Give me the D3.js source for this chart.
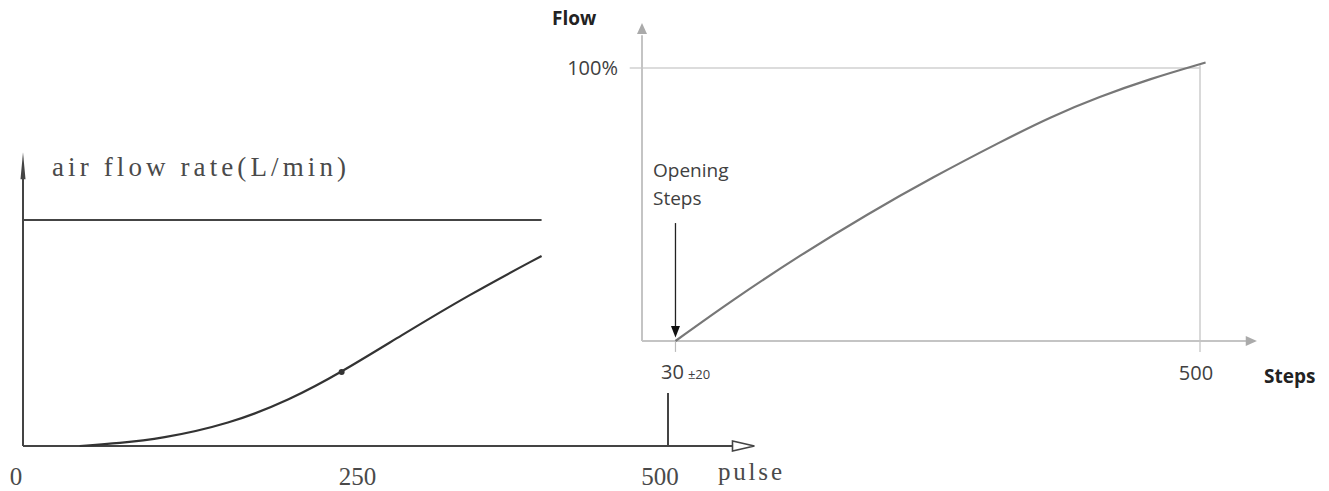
<!DOCTYPE html>
<html>
<head>
<meta charset="utf-8">
<script src="https://cdn.jsdelivr.net/npm/d3@7"></script>
<style>
  body { margin: 0; background: #fff; }
  .serif { font-family: "Liberation Serif", "DejaVu Serif", serif; fill: #4a4a4a; }
  .sans { font-family: "Open Sans", "Lato", sans-serif; fill: #404040; }
</style>
</head>
<body>
<svg id="chart" width="1329" height="491"></svg>
<script>
// left chart: air flow vs pulse
let pulse = [44, 75, 106, 160, 207, 247, 292, 346, 402]
let airFlow = [0, 1.3, 3.1, 9.7, 20.4, 32.7, 48.5, 67, 84.1]
let pulseTicks = [0, 250, 500]
let markPulse = 247

// right chart: flow % vs steps
let steps = [30, 81, 142, 202, 261, 321, 366, 410, 455, 505]
let flowPct = [0, 15.0, 31.5, 46.5, 60.1, 72.9, 82.1, 89.5, 96, 102]
let openingStep = 30
let fullStep = 500

let svg = d3.select("#chart")

// ---------- left chart ----------
let xL = d3.scaleLinear().domain([0, 500]).range([23, 668])
let yL = d3.scaleLinear().domain([0, 100]).range([446, 220])
let dark = "#444"

let gL = svg.append("g")

// y axis with thin arrow
gL.append("line")
  .attr("x1", xL(0)).attr("x2", xL(0))
  .attr("y1", yL(0)).attr("y2", yL(124))
  .attr("stroke", dark).attr("stroke-width", 2)
gL.append("path")
  .attr("d", `M${xL(0)},${yL(130)} L${xL(0) - 2.5},${yL(118)} L${xL(0) + 2.5},${yL(118)} Z`)
  .attr("fill", dark)

// x axis with open arrow
gL.append("line")
  .attr("x1", xL(0)).attr("x2", xL(560))
  .attr("y1", yL(0)).attr("y2", yL(0))
  .attr("stroke", dark).attr("stroke-width", 2)
gL.append("path")
  .attr("d", `M${xL(567)},${yL(0)} L${xL(550)},${yL(0) - 5} L${xL(550)},${yL(0) + 5} Z`)
  .attr("fill", "#fff").attr("stroke", dark).attr("stroke-width", 1.6)

// max flow line
gL.append("line")
  .attr("x1", xL(0)).attr("x2", xL(402))
  .attr("y1", yL(100)).attr("y2", yL(100))
  .attr("stroke", dark).attr("stroke-width", 2)

// 500 pulse marker
gL.append("line")
  .attr("x1", xL(500)).attr("x2", xL(500))
  .attr("y1", yL(0)).attr("y2", yL(23.5))
  .attr("stroke", dark).attr("stroke-width", 2)

// curve
let lineL = d3.line()
  .x((d, i) => xL(pulse[i]))
  .y(d => yL(d))
  .curve(d3.curveBasis)

gL.append("path")
  .datum(airFlow)
  .attr("d", lineL)
  .attr("fill", "none")
  .attr("stroke", "#333")
  .attr("stroke-width", 2.2)

gL.append("circle")
  .attr("cx", xL(markPulse))
  .attr("cy", yL(32.7))
  .attr("r", 3)
  .attr("fill", "#333")

gL.append("text")
  .attr("class", "serif")
  .attr("x", 52).attr("y", 176)
  .attr("textLength", 294).attr("lengthAdjust", "spacing")
  .style("font-size", "27px")
  .text("air flow rate(L/min)")

gL.selectAll(".tickL")
  .data(pulseTicks)
  .join("text")
  .attr("class", "serif tickL")
  .attr("x", d => xL(d) + (d == 0 ? -7 : d == 250 ? 12 : -8))
  .attr("y", 485)
  .attr("text-anchor", "middle")
  .style("font-size", "25px")
  .text(d => d)

gL.append("text")
  .attr("class", "serif")
  .attr("x", 718).attr("y", 480)
  .attr("textLength", 64).attr("lengthAdjust", "spacing")
  .style("font-size", "25px")
  .text("pulse")

// ---------- right chart ----------
let xR = d3.scaleLinear().domain([0, 500]).range([642, 1200])
let yR = d3.scaleLinear().domain([0, 100]).range([341, 68])
let light = "#c4c4c4"

let gR = svg.append("g")

// 100% guide and 500 guide
gR.append("line")
  .attr("x1", xR(-11)).attr("x2", xR(fullStep))
  .attr("y1", yR(100)).attr("y2", yR(100))
  .attr("stroke", "#d0d0d0").attr("stroke-width", 1.6)
gR.append("line")
  .attr("x1", xR(fullStep)).attr("x2", xR(fullStep))
  .attr("y1", yR(101)).attr("y2", yR(-4))
  .attr("stroke", "#d0d0d0").attr("stroke-width", 1.6)

// opening tick below axis
gR.append("line")
  .attr("x1", xR(openingStep)).attr("x2", xR(openingStep))
  .attr("y1", yR(0)).attr("y2", yR(-4))
  .attr("stroke", "#bbb").attr("stroke-width", 1.2)

// axes
gR.append("line")
  .attr("x1", xR(0)).attr("x2", xR(545))
  .attr("y1", yR(0)).attr("y2", yR(0))
  .attr("stroke", light).attr("stroke-width", 2)
gR.append("path")
  .attr("d", `M${xR(551)},${yR(0)} L${xR(541)},${yR(0) - 5} L${xR(541)},${yR(0) + 5} Z`)
  .attr("fill", "#aaa")
gR.append("line")
  .attr("x1", xR(0)).attr("x2", xR(0))
  .attr("y1", yR(0)).attr("y2", yR(112))
  .attr("stroke", light).attr("stroke-width", 2)
gR.append("path")
  .attr("d", `M${xR(0)},${yR(116.5)} L${xR(0) - 5},${yR(112.5)} L${xR(0) + 5},${yR(112.5)} Z`)
  .attr("fill", "#aaa")

// flow curve
let lineR = d3.line()
  .x((d, i) => xR(steps[i]))
  .y(d => yR(d))
  .curve(d3.curveBasis)

gR.append("path")
  .datum(flowPct)
  .attr("d", lineR)
  .attr("fill", "none")
  .attr("stroke", "#777")
  .attr("stroke-width", 2.2)

// opening steps arrow
gR.append("line")
  .attr("x1", xR(openingStep)).attr("x2", xR(openingStep))
  .attr("y1", yR(43.2)).attr("y2", yR(5))
  .attr("stroke", "#222").attr("stroke-width", 1.3)
gR.append("path")
  .attr("d", `M${xR(openingStep)},${yR(1.3)} L${xR(openingStep) - 4.5},${yR(5.5)} L${xR(openingStep) + 4.5},${yR(5.5)} Z`)
  .attr("fill", "#111")

// texts
gR.append("text")
  .attr("class", "sans")
  .attr("x", 552).attr("y", 25)
  .style("font-size", "19px").style("font-weight", "bold")
  .style("fill", "#222")
  .text("Flow")

gR.append("text")
  .attr("class", "sans")
  .attr("x", 618).attr("y", yR(100) + 7)
  .attr("text-anchor", "end")
  .style("font-size", "20px")
  .text("100%")

gR.append("text")
  .attr("class", "sans")
  .attr("x", 653).attr("y", 177)
  .style("font-size", "19px")
  .text("Opening")
gR.append("text")
  .attr("class", "sans")
  .attr("x", 653).attr("y", 205)
  .style("font-size", "19px")
  .text("Steps")

let lab30 = gR.append("text")
  .attr("class", "sans")
  .attr("x", 661).attr("y", 379)
  .style("font-size", "20px")
lab30.append("tspan").text(openingStep)
lab30.append("tspan").attr("dx", 4).style("font-size", "13px").text("±20")

gR.append("text")
  .attr("class", "sans")
  .attr("x", xR(fullStep) - 4).attr("y", 380)
  .attr("text-anchor", "middle")
  .style("font-size", "20px")
  .text(fullStep)

gR.append("text")
  .attr("class", "sans")
  .attr("x", 1264).attr("y", 383)
  .style("font-size", "19px").style("font-weight", "bold")
  .style("fill", "#222")
  .text("Steps")
</script>
</body>
</html>
